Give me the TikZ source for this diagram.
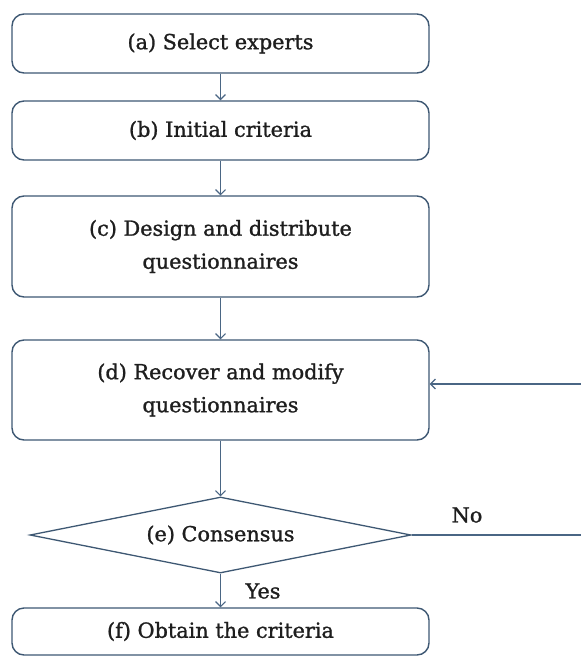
\documentclass[tikz,border=0pt]{standalone}
\usepackage{fontspec}
\setmainfont{DejaVu Serif}[FakeBold=1.2]
\usetikzlibrary{shapes.geometric,arrows.meta}
\definecolor{boxcol}{HTML}{3E5873}
\definecolor{linecol}{HTML}{4A6684}
\definecolor{txt}{HTML}{1E1E1E}
\begin{document}
\begin{tikzpicture}[x=1pt,y=-1pt,
  box/.style={draw=boxcol, line width=1.4pt, rounded corners=12pt, minimum width=417pt,
    align=center, inner sep=0pt, text=txt, font=\fontsize{20.8}{33}\selectfont},
  decision/.style={draw=boxcol, line width=1.3pt, diamond, aspect=5.01, minimum width=381pt, minimum height=76pt,
    inner sep=0pt, text=txt, font=\fontsize{20.8}{22}\selectfont},
  lbl/.style={text=txt, font=\fontsize{20.8}{22}\selectfont, inner sep=0pt},
  arr/.style={draw=linecol, line width=1.1pt, -{Straight Barb[length=5pt,width=10pt]}}]
\useasboundingbox (0,0) rectangle (581,656);
\clip (0,0) rectangle (581,656);
\node[box, minimum height=59pt] (a) at (220.5,43.5) {(a) Select experts};
\node[box, minimum height=59pt] (b) at (220.5,130.5) {(b) Initial criteria};
\node[box, minimum height=101pt] (c) at (220.5,246.5) {(c) Design and distribute\\questionnaires};
\node[box, minimum height=100pt] (d) at (220.5,390) {(d) Recover and modify\\questionnaires};
\node[decision] (e) at (220.5,535) {(e) Consensus};
\node[box, minimum height=47pt] (f) at (220.5,631.5) {(f) Obtain the criteria};
\node[lbl] (no) at (467,515) {No};
\node[lbl] (yes) at (263,591) {Yes};
\draw[arr] (a) -- (b);
\draw[arr] (b) -- (c);
\draw[arr] (c) -- (d);
\draw[arr] (d) -- (e);
\draw[arr] (e) -- (f);
\draw[arr] (e.east) -- ++(180,0) |- ([yshift=6pt]d.east);
\end{tikzpicture}
\end{document}
